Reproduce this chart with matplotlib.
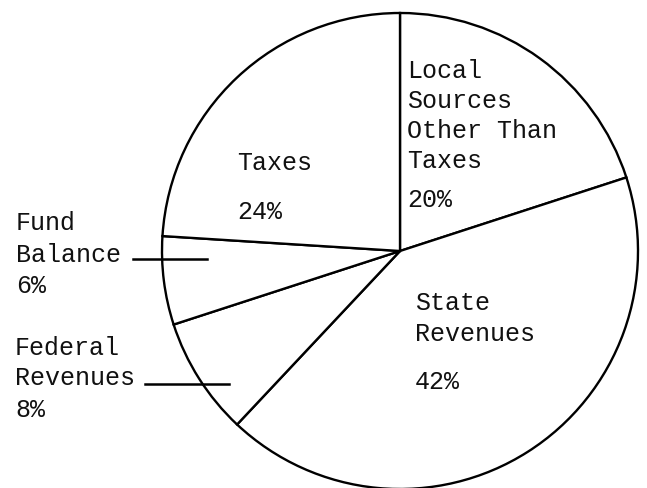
import matplotlib
matplotlib.use("Agg")
import matplotlib.pyplot as plt

# Data (clockwise from 12 o'clock)
categories = ["Local Sources Other Than Taxes", "State Revenues",
              "Federal Revenues", "Fund Balance", "Taxes"]
shares = [20, 42, 8, 6, 24]
pct_labels = ["20%", "42%", "8%", "6%", "24%"]

W, H = 647, 489
fig = plt.figure(figsize=(W / 100, H / 100), dpi=100)
ax = fig.add_axes([0, 0, 1, 1])

cx, cy, r = 400, 252, 238
ax.pie(shares, center=(cx, H - cy), radius=r, startangle=90, counterclock=False,
       frame=True,
       wedgeprops=dict(facecolor="white", edgecolor="black", linewidth=1.7))
ax.set_xlim(0, W)
ax.set_ylim(0, H)
ax.set_aspect("auto")
ax.axis("off")

FONT = "Liberation Mono"


def put(x, y, s, **kw):
    ax.text(x, H - y, s, fontfamily=FONT, fontsize=18, va="baseline",
            ha="left", color="#111111", **kw)


# Local Sources
for i, line in enumerate(["Local", "Sources", "Other Than", "Taxes"]):
    put(407, 78 + i * 30, line)
put(407, 207, pct_labels[0])

# State Revenues
put(415, 310, "State")
put(415, 341, "Revenues")
put(415, 389, pct_labels[1])

# Taxes
put(237, 170, "Taxes")
put(237, 219, pct_labels[4])

# Fund Balance
put(16, 230, "Fund")
put(16, 262, "Balance")
put(16, 293, pct_labels[3])
ax.plot([133, 207], [H - 260, H - 260], color="black", lw=1.8)

# Federal Revenues
put(15, 355, "Federal")
put(15, 385, "Revenues")
put(15, 417, pct_labels[2])
ax.plot([145, 229], [H - 385, H - 385], color="black", lw=1.8)

fig.savefig("out.png", dpi=100, facecolor="white")
